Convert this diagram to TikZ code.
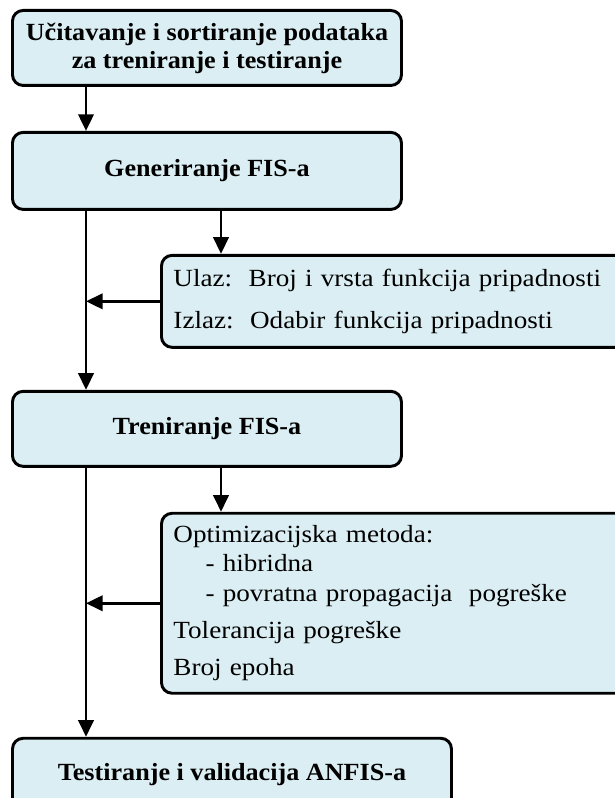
\documentclass[tikz,border=0pt]{standalone}
\usepackage{fontspec}
\setmainfont{Liberation Serif}[UprightFeatures={FakeStretch=1.1}, BoldFeatures={FakeStretch=1.06}]
\usetikzlibrary{positioning, arrows.meta}
\definecolor{boxblue}{RGB}{219,238,243}

\begin{document}
\begin{tikzpicture}[font=\fontsize{18.5}{22}\selectfont,
    main/.style = {draw, line width=2.2pt, rounded corners=8pt, fill=boxblue, font=\fontsize{18.5}{21}\selectfont\bfseries, align=center, minimum width=291.75pt, minimum height=56.25pt, inner sep=0pt},
    side/.style = {draw, line width=2.2pt, rounded corners=8pt, fill=boxblue, align=left, text width=330.75pt, inner xsep=9pt, inner ysep=0pt},
    arr/.style = {-{Triangle[length=12.5pt,width=11.5pt]}, line width=2.1pt}]
    \useasboundingbox (0,0) rectangle (460.5pt,-598.5pt);
    \node[main, anchor=north west] (load) at (8.25pt,-6.75pt) {Učitavanje i sortiranje podataka\\za treniranje i testiranje};
    \node[main, minimum height=57.75pt, below right=33pt and 0pt of load.south west] (gen) {Generiranje FIS-a};
    \node[side, minimum height=69pt, below right=32.25pt and 111.75pt of gen.south west] (ulaz) {Ulaz:~~Broj i vrsta funkcija pripadnosti\\[10pt]Izlaz:~~Odabir funkcija pripadnosti};
    \node[main, below right=134.25pt and 0pt of gen.south west] (train) {Treniranje FIS-a};
    \node[side, minimum height=135pt, below right=33pt and 111.75pt of train.south west] (opt) {Optimizacijska metoda:\\
        \hspace*{1.3em}- hibridna\\
        \hspace*{1.3em}- povratna propagacija~~pogreške\\[6pt]
        Tolerancija pogreške\\[6pt]
        Broj epoha};
    \node[main, minimum width=329.25pt, minimum height=55pt, below right=201.75pt and 0pt of train.south west] (test) {Testiranje i validacija ANFIS-a};
    \coordinate (t1) at ([xshift=56.25pt]gen.south west);
    \coordinate (t2) at ([xshift=56.25pt]train.south west);
    \draw[arr] ([xshift=56.25pt]load.south west) -- ([xshift=56.25pt]gen.north west);
    \draw[arr] (t1) -- ([xshift=56.25pt]train.north west);
    \draw[arr] (t2) -- ([xshift=56.25pt]test.north west);
    \draw[arr] ([xshift=157.5pt]gen.south west) -- ([xshift=45.75pt]ulaz.north west);
    \draw[arr] ([xshift=157.5pt]train.south west) -- ([xshift=45.75pt]opt.north west);
    \draw[arr] (ulaz.west) -- (ulaz.west -| t1);
    \draw[arr] (opt.west) -- (opt.west -| t2);
\end{tikzpicture}
\end{document}
